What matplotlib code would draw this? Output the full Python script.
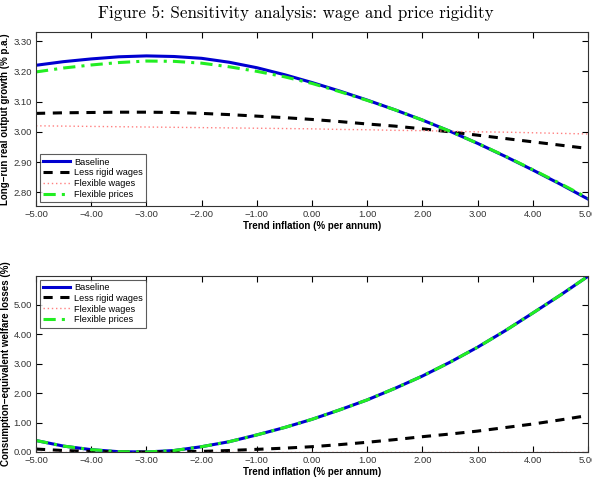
import matplotlib
matplotlib.use("Agg")
import matplotlib.pyplot as plt

# ---- data ----
trend_inflation = [-5.0, -4.5, -4.0, -3.5, -3.0, -2.5, -2.0, -1.5, -1.0, -0.5, 0.0,
                   0.5, 1.0, 1.5, 2.0, 2.5, 3.0, 3.5, 4.0, 4.5, 5.0]

growth_baseline = [3.220, 3.232, 3.241, 3.248, 3.251, 3.249, 3.243, 3.230, 3.212, 3.189, 3.163,
                   3.135, 3.105, 3.073, 3.039, 3.002, 2.962, 2.919, 2.874, 2.827, 2.778]
growth_less_rigid = [3.061, 3.063, 3.064, 3.065, 3.065, 3.064, 3.061, 3.057, 3.052, 3.047, 3.041,
                     3.034, 3.026, 3.019, 3.010, 3.000, 2.989, 2.978, 2.967, 2.956, 2.945]
growth_flex_wages = [3.020, 3.019, 3.018, 3.017, 3.016, 3.015, 3.014, 3.013, 3.012, 3.011, 3.010,
                     3.008, 3.007, 3.005, 3.004, 3.002, 3.000, 2.999, 2.997, 2.995, 2.993]
growth_flex_prices = [3.198, 3.211, 3.221, 3.229, 3.234, 3.233, 3.227, 3.215, 3.200, 3.182, 3.160,
                      3.133, 3.104, 3.073, 3.039, 3.002, 2.962, 2.920, 2.875, 2.829, 2.781]

welfare_baseline = [0.39, 0.20, 0.08, 0.01, 0.00, 0.05, 0.18, 0.35, 0.58, 0.83, 1.11,
                    1.43, 1.77, 2.16, 2.58, 3.05, 3.56, 4.12, 4.72, 5.33, 5.97]
welfare_less_rigid = [0.10, 0.05, 0.02, 0.00, 0.00, 0.01, 0.02, 0.05, 0.09, 0.13, 0.18,
                      0.25, 0.33, 0.42, 0.52, 0.61, 0.71, 0.83, 0.95, 1.09, 1.24]
welfare_flex_wages = [0.00] * 21
welfare_flex_prices = [0.39, 0.20, 0.08, 0.01, 0.00, 0.05, 0.18, 0.35, 0.58, 0.83, 1.11,
                       1.43, 1.77, 2.16, 2.58, 3.05, 3.56, 4.12, 4.72, 5.33, 5.97]

series_labels = ["Baseline", "Less rigid wages", "Flexible wages", "Flexible prices"]
x_ticks = [-5, -4, -3, -2, -1, 0, 1, 2, 3, 4, 5]
top_yticks = [2.80, 2.90, 3.00, 3.10, 3.20, 3.30]
bottom_yticks = [0.0, 1.0, 2.0, 3.0, 4.0, 5.0]

plt.rcParams['font.family'] = ['Liberation Sans', 'DejaVu Sans']

fig = plt.figure(figsize=(5.92, 4.83), dpi=100)
fig.text(0.5, 0.972, "Figure 5: Sensitivity analysis: wage and price rigidity",
         ha='center', va='center', fontsize=12.2, family=['cmr10', 'DejaVu Serif'])

ax1 = fig.add_axes([0.0608, 0.5735, 0.9324, 0.3609])
ax2 = fig.add_axes([0.0608, 0.0642, 0.9324, 0.3644])

styles = [
    dict(color='#0000d0', lw=2.2, ls='-'),
    dict(color='black', lw=2.2, ls=(0, (3, 2.5))),
    dict(color='#ff7f7f', lw=1.0, ls=(0, (1, 2))),
    dict(color='#22ee22', lw=2.2, ls=(0, (4, 2, 1, 2))),
]

for ax, ys in [(ax1, [growth_baseline, growth_less_rigid, growth_flex_wages, growth_flex_prices]),
               (ax2, [welfare_baseline, welfare_less_rigid, welfare_flex_wages, welfare_flex_prices])]:
    for y, st, lab in zip(ys, styles, series_labels):
        ax.plot(trend_inflation, y, label=lab, **st)
    ax.set_xlim(-5, 5)
    ax.set_xticks(x_ticks)
    ax.set_xticklabels([f"{v:.2f}".replace('-', '\u2212') for v in x_ticks])
    ax.tick_params(direction='in', top=True, right=True, labelsize=6.8, length=4,
                   labelcolor='#333333', pad=3)
    ax.set_xlabel("Trend inflation (% per annum)", fontsize=7, fontweight='bold', labelpad=1)
    for s in ax.spines.values():
        s.set_color('#333333')

ax1.set_ylim(2.755, 3.331)
ax1.set_yticks(top_yticks)
ax1.set_yticklabels([f"{v:.2f}" for v in top_yticks])
ax1.set_ylabel("Long\u2212run real output growth (% p.a.)", fontsize=7, fontweight='bold', labelpad=2)

ax2.set_ylim(0, 5.98)
ax2.set_yticks(bottom_yticks)
ax2.set_yticklabels([f"{v:.2f}" for v in bottom_yticks])
ax2.set_ylabel("Consumption\u2212equivalent welfare losses (%)", fontsize=7, fontweight='bold', labelpad=2)

for ax, loc in [(ax1, 'lower left'), (ax2, 'upper left')]:
    leg = ax.legend(loc=loc, fontsize=6.6, frameon=True, fancybox=False, handlelength=3.0,
                    borderpad=0.35, labelspacing=0.2, handletextpad=0.4, borderaxespad=0.4)
    leg.get_frame().set_edgecolor('#333333')
    leg.get_frame().set_linewidth(0.8)

fig.savefig("out.png", dpi=100)
